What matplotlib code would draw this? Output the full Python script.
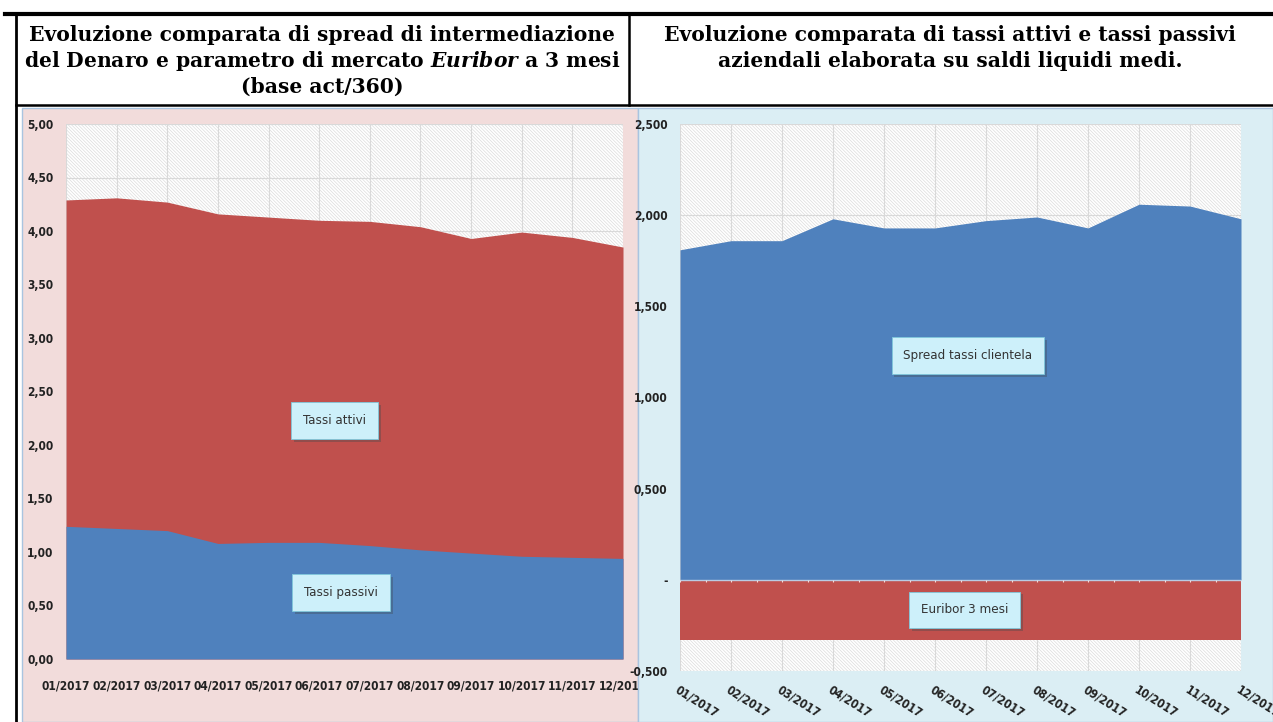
import matplotlib.pyplot as plt
import matplotlib.patheffects as pe
from matplotlib.patches import Rectangle
from matplotlib.lines import Line2D
from matplotlib.ticker import FuncFormatter
import numpy as np

# Data
months = ['01/2017', '02/2017', '03/2017', '04/2017', '05/2017', '06/2017',
          '07/2017', '08/2017', '09/2017', '10/2017', '11/2017', '12/2017']
tassi_attivi = [4.29, 4.31, 4.27, 4.16, 4.13, 4.10, 4.09, 4.04, 3.93, 3.99, 3.94, 3.85]
tassi_passivi = [1.24, 1.22, 1.20, 1.08, 1.09, 1.09, 1.06, 1.02, 0.99, 0.96, 0.95, 0.94]
spread_clientela = [1.81, 1.86, 1.86, 1.98, 1.93, 1.93, 1.97, 1.99, 1.93, 2.06, 2.05, 1.98]
euribor_3m = [-0.33, -0.33, -0.33, -0.33, -0.33, -0.33, -0.33, -0.33, -0.33, -0.33, -0.33, -0.33]

title_left = ['Evoluzione comparata di spread di intermediazione',
              r'del Denaro e parametro di mercato $\mathit{Euribor}$ a 3 mesi',
              '(base act/360)']
title_right = ['Evoluzione comparata di tassi attivi e tassi passivi',
               'aziendali elaborata su saldi liquidi medi.']

RED = '#C0504D'
BLUE = '#4F81BD'
PINK = '#F2DCDB'
LBLUE = '#DBEEF4'
GRID = '#D9D9D9'

plt.rcParams['mathtext.fontset'] = 'custom'
plt.rcParams['mathtext.it'] = 'DejaVu Serif:italic:bold'
plt.rcParams['mathtext.rm'] = 'DejaVu Serif:bold'
plt.rcParams['hatch.linewidth'] = 0.5
plt.rcParams['hatch.color'] = '#DCDCDC'

W, H = 1273, 722
fig = plt.figure(figsize=(W / 100, H / 100), dpi=100)
fig.patch.set_facecolor('white')


def fx(px):
    return px / W


def fy(py):
    return 1 - py / H


# table lines
fig.add_artist(Line2D([fx(5), fx(1273)], [fy(14), fy(14)], color='black', lw=3))
fig.add_artist(Line2D([fx(16), fx(16)], [fy(14), fy(722)], color='black', lw=2))
fig.add_artist(Line2D([fx(629), fx(629)], [fy(14), fy(105)], color='black', lw=1.8))
fig.add_artist(Line2D([fx(16), fx(1273)], [fy(105), fy(105)], color='black', lw=1.8))

# header texts
serif = dict(family='DejaVu Serif', weight='bold', fontsize=14.6, color='black',
             ha='center', va='center')
for i, line in enumerate(title_left):
    fig.text(fx(322), fy(35 + i * 26), line, **serif)
for i, line in enumerate(title_right):
    fig.text(fx(950), fy(35 + i * 26), line, **serif)

# chart backgrounds
fig.add_artist(Rectangle((fx(22), 0), fx(638) - fx(22), fy(108), facecolor=PINK,
                         edgecolor='#A9C4E0', lw=1, zorder=-3))
fig.add_artist(Rectangle((fx(638), 0), fx(1273) - fx(638), fy(108), facecolor=LBLUE,
                         edgecolor='#A9C4E0', lw=1, zorder=-1))

tick_font = dict(family='DejaVu Sans', stretch='condensed', weight='bold', size=8.6)


def hatch_bg(ax):
    ax.set_facecolor('white')
    ax.add_patch(Rectangle((0, 0), 1, 1, transform=ax.transAxes, facecolor='none',
                           edgecolor='#DCDCDC', lw=0, hatch='\\' * 10, zorder=0))
    ax.grid(True, color=GRID, lw=0.8, zorder=0.5)
    ax.set_axisbelow(True)
    for s in ax.spines.values():
        s.set_visible(False)


def callout(ax, x, y, text):
    t = ax.text(x, y, text, ha='left', va='center', fontsize=9.5, color='#333333',
                family='DejaVu Sans', stretch='condensed', zorder=5,
                bbox=dict(boxstyle='square,pad=0.9', facecolor='#CDF0FA',
                          edgecolor='#7FC8DC', lw=0.6))
    t.get_bbox_patch().set_path_effects([pe.withSimplePatchShadow(offset=(2, -2),
                                                                   alpha=0.35)])
    return t


x = np.arange(len(months))

# left chart
ax1 = fig.add_axes([fx(66), fy(659), fx(623) - fx(66), fy(124) - fy(659)], zorder=-2)
hatch_bg(ax1)
ax1.fill_between(x, 0, tassi_attivi, color=RED, lw=0, zorder=2)
ax1.fill_between(x, 0, tassi_passivi, color=BLUE, lw=0, zorder=3)
ax1.set_xlim(0, 11)
ax1.set_ylim(0, 5)
ax1.set_yticks(np.arange(0, 5.01, 0.5))
ax1.yaxis.set_major_formatter(FuncFormatter(lambda v, p: f'{v:.2f}'.replace('.', ',')))
ax1.set_xticks(x)
ax1.set_xticklabels(months)
ax1.tick_params(axis='y', length=0, pad=9)
ax1.tick_params(axis='x', length=0, pad=15)
for lab in ax1.get_xticklabels() + ax1.get_yticklabels():
    lab.set(**tick_font)
    lab.set_color('#222222')
callout(ax1, 4.68, 2.23, 'Tassi attivi')
callout(ax1, 4.70, 0.62, 'Tassi passivi')

# right chart
ax2 = fig.add_axes([fx(680), fy(671), fx(1241) - fx(680), fy(124) - fy(671)], zorder=0)
hatch_bg(ax2)
ax2.fill_between(x, 0, spread_clientela, color=BLUE, lw=0, zorder=2)
ax2.fill_between(x, 0, euribor_3m, color=RED, lw=0, zorder=2)
ax2.axhline(0, color='#B8CCE4', lw=1, zorder=3)
ax2.vlines(np.arange(0, 11.01, 0.5), -0.012, 0, color='#F2DCDB', lw=0.8, zorder=4)
ax2.set_xlim(0, 11)
ax2.set_ylim(-0.5, 2.5)
ax2.set_yticks(np.arange(-0.5, 2.51, 0.5))


def acc_fmt(v, p):
    if abs(v) < 1e-9:
        return '-'
    return f'{v:.3f}'.replace('.', ',')


ax2.yaxis.set_major_formatter(FuncFormatter(acc_fmt))
ax2.set_xticks(x)
ax2.set_xticklabels(months, rotation=-32, ha='left', va='top', rotation_mode='anchor')
ax2.tick_params(length=0, pad=9)
for lab in ax2.get_xticklabels() + ax2.get_yticklabels():
    lab.set(**tick_font)
    lab.set_color('#222222')
callout(ax2, 4.38, 1.23, 'Spread tassi clientela')
callout(ax2, 4.72, -0.165, 'Euribor 3 mesi')

fig.savefig('out.png', dpi=100)
